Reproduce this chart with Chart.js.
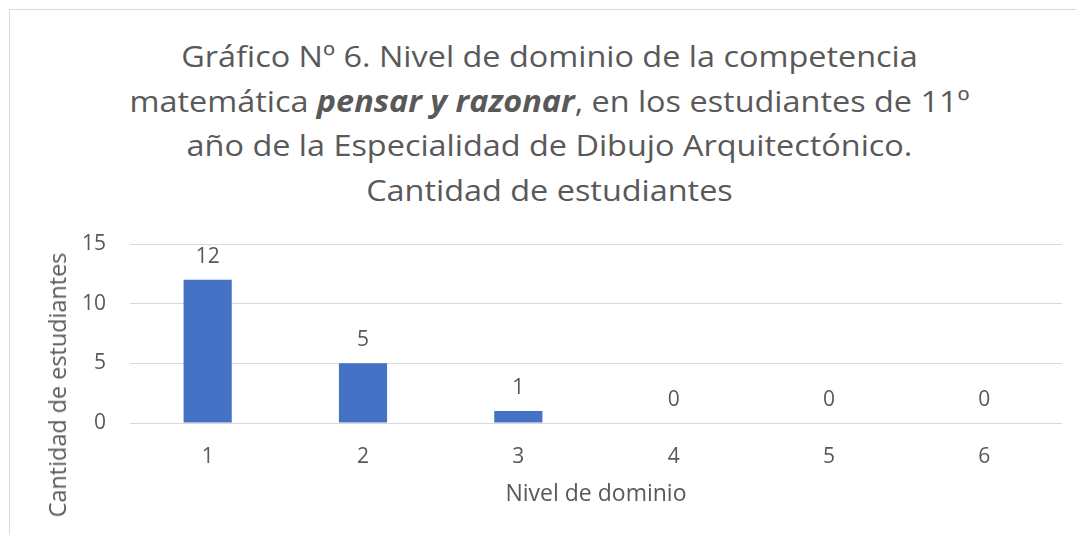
<!DOCTYPE html>
<html>
<head>
<meta charset="utf-8">
<script src="https://cdn.jsdelivr.net/npm/chart.js@4.4.0/dist/chart.umd.min.js"></script>
<style>
  html, body { margin: 0; padding: 0; background: #fff; width: 1076px; height: 535px; overflow: hidden; }
  #frame { position: absolute; left: 9px; top: 9px; width: 1100px; height: 560px; border: 1px solid #d9d9d9; box-sizing: border-box; }
  #wrap { position: absolute; left: 0; top: 0; width: 1076px; height: 535px; }
  #title { position: absolute; left: 0; top: 34px; width: 1099px; text-align: center; font-family: "Open Sans", Lato, sans-serif; font-size: 30px; line-height: 44.7px; color: #595959; transform: scaleX(1.08); transform-origin: 549.5px 0; }
  #title b { font-weight: bold; font-style: italic; }
  #ytitle { position: absolute; left: 57px; top: 385px; width: 0; height: 0; }
  #ytitle span { position: absolute; left: 0; top: 0; transform: translate(-50%, -50%) rotate(-90deg); white-space: nowrap; font-family: "Open Sans", Lato, sans-serif; font-size: 23.4px; line-height: 28px; color: #595959; }
</style>
</head>
<body>
<div id="frame"></div>
<div id="title">Gráfico Nº 6. Nivel de dominio de la competencia<br>matemática <b>pensar y razonar</b>, en los estudiantes de 11º<br>año de la Especialidad de Dibujo Arquitectónico.<br>Cantidad de estudiantes</div>
<div id="wrap"><canvas id="c" width="1076" height="535"></canvas></div>
<div id="ytitle"><span id="ytitleText"></span></div>
<script>
const categories = ["1", "2", "3", "4", "5", "6"];
const seriesName = "Cantidad de estudiantes";
const values = [12, 5, 1, 0, 0, 0];
const yTicks = [0, 5, 10, 15];
const xAxisTitle = "Nivel de dominio";
const yAxisTitle = "Cantidad de estudiantes";

document.getElementById('ytitleText').textContent = yAxisTitle;

const FONT = '"Open Sans", Lato, sans-serif';
const TEXT = '#595959';

const valueLabels = {
  id: 'valueLabels',
  afterDatasetsDraw(chart) {
    const ctx = chart.ctx;
    const meta = chart.getDatasetMeta(0);
    ctx.save();
    ctx.font = '21px ' + FONT;
    ctx.fillStyle = TEXT;
    ctx.textAlign = 'center';
    ctx.textBaseline = 'middle';
    meta.data.forEach((bar, i) => {
      ctx.fillText(String(values[i]), bar.x, bar.y - 23);
    });
    ctx.restore();
  }
};

new Chart(document.getElementById('c'), {
  type: 'bar',
  data: {
    labels: categories,
    datasets: [{
      label: seriesName,
      data: values,
      backgroundColor: '#4472C4',
      borderWidth: 0,
      categoryPercentage: 1.0,
      barPercentage: 0.31
    }]
  },
  options: {
    responsive: false,
    animation: false,
    layout: { padding: { left: 44, right: 14, top: 244, bottom: 27 } },
    plugins: {
      legend: { display: false },
      tooltip: { enabled: false },
      title: { display: false }
    },
    scales: {
      x: {
        grid: { display: false, drawTicks: false },
        border: { display: false },
        ticks: { color: TEXT, font: { family: FONT, size: 21 }, padding: 21 },
        title: { display: true, text: xAxisTitle, color: TEXT, font: { family: FONT, size: 23 }, padding: 0 },
        afterFit(s) { s.height = 85; }
      },
      y: {
        min: 0, max: 15,
        afterBuildTicks(s) { s.ticks = yTicks.map(v => ({ value: v })); },
        grid: { color: '#d9d9d9', lineWidth: 1, drawTicks: false },
        border: { display: false },
        ticks: { color: TEXT, font: { family: FONT, size: 21 }, padding: 24 },
        title: { display: false },
        afterFit(s) { s.width = 86; }
      }
    }
  },
  plugins: [valueLabels]
});
</script>
</body>
</html>
